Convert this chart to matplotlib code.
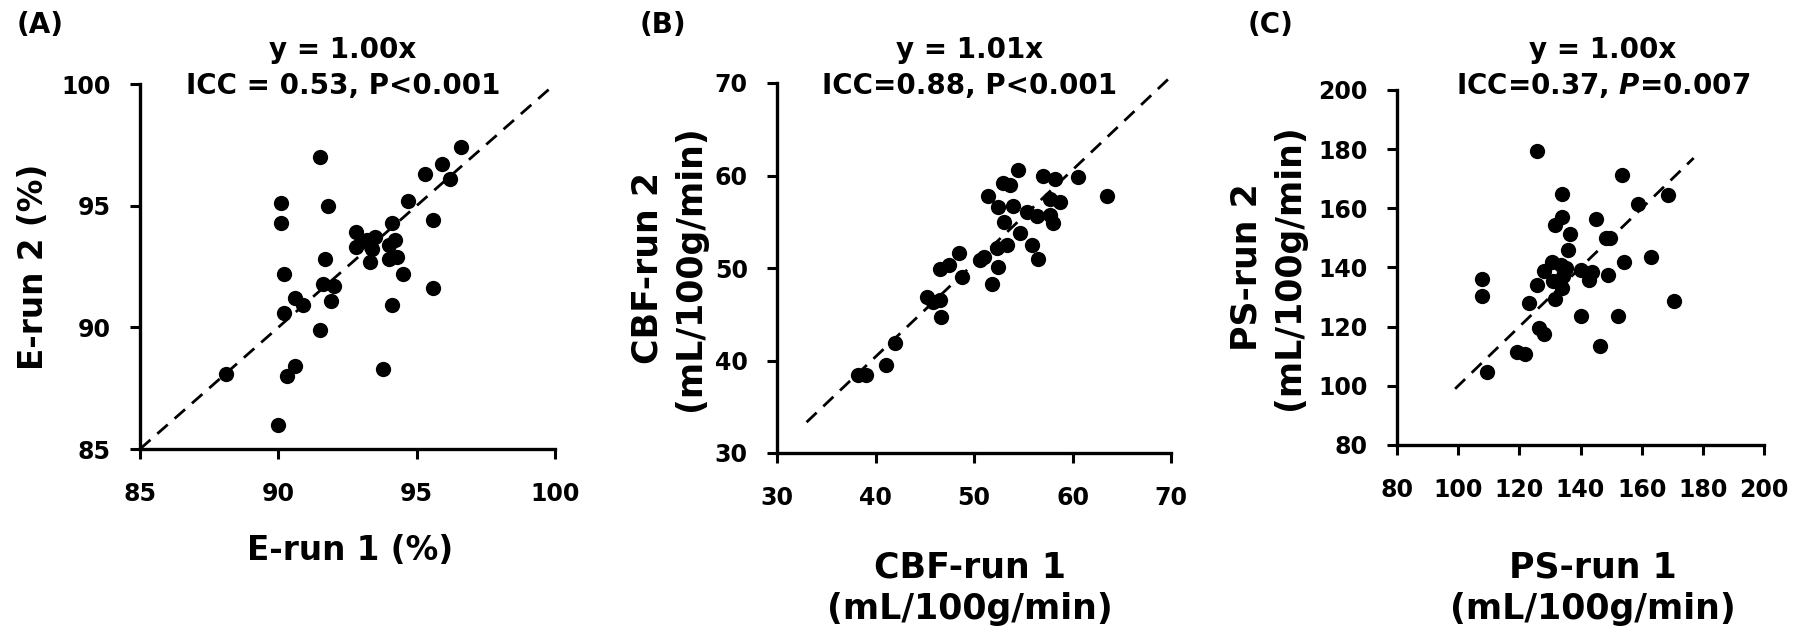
import numpy as np
import matplotlib
matplotlib.use("Agg")
import matplotlib.pyplot as plt

# panel A: E (%)
e_run1 = [96.6, 91.5, 95.9, 95.3, 96.2, 90.1, 91.8, 94.7, 90.1, 94.1, 95.6, 92.8,
          94.2, 92.8, 93.2, 93.5, 93.4, 94.0, 93.3, 94.0, 94.3, 91.7, 90.2, 94.5,
          91.6, 92.0, 90.6, 90.9, 91.9, 95.6, 94.1, 90.2, 91.5, 90.6, 90.3, 88.1,
          93.8, 90.0, 93.0]
e_run2 = [97.4, 97.0, 96.7, 96.3, 96.1, 95.1, 95.0, 95.2, 94.3, 94.3, 94.4, 93.9,
          93.6, 93.3, 93.6, 93.7, 93.2, 93.4, 92.7, 92.8, 92.9, 92.8, 92.2, 92.2,
          91.8, 91.7, 91.2, 90.9, 91.1, 91.6, 90.9, 90.6, 89.9, 88.4, 88.0, 88.1,
          88.3, 86.0, 93.5]

# panel B: CBF (mL/100g/min)
cbf_run1 = [54.5, 57.0, 58.2, 60.6, 52.9, 53.7, 63.5, 51.4, 57.7, 58.7, 52.4, 54.0,
            55.4, 56.4, 57.7, 58.0, 53.0, 54.7, 55.9, 53.4, 52.3, 56.5, 51.0, 50.6,
            52.4, 51.8, 48.5, 47.5, 46.5, 48.8, 45.2, 45.8, 46.5, 46.7, 42.0, 41.1,
            38.2, 39.0]
cbf_run2 = [60.6, 59.9, 59.6, 59.8, 59.2, 59.0, 57.8, 57.8, 57.5, 57.1, 56.6, 56.7,
            56.1, 55.6, 55.7, 54.9, 55.0, 53.8, 52.5, 52.5, 52.2, 51.0, 51.2, 50.9,
            50.1, 48.3, 51.6, 50.3, 49.9, 49.0, 46.9, 46.3, 46.5, 44.7, 41.9, 39.5,
            38.4, 38.4]

# panel C: PS (mL/100g/min)
ps_run1 = [125.8, 153.6, 134.0, 168.6, 158.9, 134.0, 145.2, 131.8, 136.7, 148.2,
           149.6, 135.9, 154.2, 162.9, 130.7, 133.5, 135.3, 128.0, 140.0, 143.8,
           149.1, 142.7, 107.8, 107.8, 125.8, 131.1, 134.0, 131.8, 123.1, 170.5,
           140.3, 152.3, 126.4, 128.0, 119.1, 121.7, 146.5, 109.5, 134.3]
ps_run2 = [179.3, 171.4, 164.7, 164.4, 161.5, 157.1, 156.5, 154.2, 151.4, 150.0,
           150.0, 146.0, 141.8, 143.6, 141.8, 141.0, 139.8, 138.7, 139.3, 138.4,
           137.6, 135.7, 136.1, 130.5, 134.2, 135.3, 133.1, 129.3, 128.0, 128.8,
           123.5, 123.5, 119.5, 117.6, 111.6, 110.8, 113.5, 104.8, 137.0]

plt.rcParams['font.family'] = ['DejaVu Sans']
plt.rcParams['font.weight'] = 'bold'
plt.rcParams['mathtext.fontset'] = 'custom'
plt.rcParams['mathtext.it'] = 'DejaVu Sans:italic:bold'

W, H = 1800, 634
fig = plt.figure(figsize=(18, 6.34), dpi=100)

def px_axes(x0, x1, ytop, ybot):
    return fig.add_axes([x0 / W, 1 - ybot / H, (x1 - x0) / W, (ybot - ytop) / H])

panels = [
    dict(box=(140, 555, 84, 449), x=e_run1, y=e_run2, lim=(85, 100), ticks=[85, 90, 95, 100],
         line=(85, 100, 1.00), letter='(A)', t1='y = 1.00x', t2='ICC = 0.53, P<0.001',
         xl='E-run 1 (%)', yl='E-run 2 (%)', tcx=343, xlx=350, lsz=23.5),
    dict(box=(777, 1171, 83, 453), x=cbf_run1, y=cbf_run2, lim=(30, 70), ticks=[30, 40, 50, 60, 70],
         line=(33, 70, 1.01), letter='(B)', t1='y = 1.01x', t2='ICC=0.88, P<0.001',
         xl='CBF-run 1\n(mL/100g/min)', yl='CBF-run 2\n(mL/100g/min)', tcx=970, xlx=970, lsz=25),
    dict(box=(1397, 1764, 90, 445), x=ps_run1, y=ps_run2, lim=(80, 200),
         ticks=[80, 100, 120, 140, 160, 180, 200],
         line=(99, 177, 1.00), letter='(C)', t1='y = 1.00x', t2=r'ICC=0.37, $\mathit{P}$=0.007',
         xl='PS-run 1\n(mL/100g/min)', yl='PS-run 2\n(mL/100g/min)', tcx=1603, xlx=1593, lsz=25),
]

letter_x = [17, 640, 1248]
ylab_x = [34, 669, 1268]

for i, p in enumerate(panels):
    x0, x1, yt, yb = p['box']
    ax = px_axes(x0, x1, yt, yb)
    lx0, lx1, k = p['line']
    xs = np.array([lx0, lx1])
    ax.plot(xs, k * xs, color='black', lw=2.0, ls=(0, (5, 3.3)))
    ax.plot(p['x'], p['y'], 'o', color='black', ms=11, mew=0)
    ax.set_xlim(p['lim'])
    ax.set_ylim(p['lim'])
    ax.set_xticks(p['ticks'])
    ax.set_yticks(p['ticks'])
    for s in ['top', 'right']:
        ax.spines[s].set_visible(False)
    for s in ['left', 'bottom']:
        ax.spines[s].set_linewidth(2.4)
    ax.tick_params(axis='both', length=7, width=2.2, labelsize=17)
    ax.tick_params(axis='y', pad=14)
    ax.tick_params(axis='x', pad=17)
    for art in ax.lines:
        art.set_clip_on(False)

    fig.text(p['tcx'] / W, 1 - 50 / H, p['t1'], ha='center', va='center', fontsize=20,
             fontweight='bold')
    fig.text(p['tcx'] / W, 1 - 86 / H, p['t2'], ha='center', va='center', fontsize=20,
             fontweight='bold')
    fig.text(letter_x[i] / W, 1 - 25 / H, p['letter'], ha='left', va='center', fontsize=20,
             fontweight='bold')
    fig.text(ylab_x[i] / W, 1 - (yt + yb) / 2 / H, p['yl'], rotation=90, ha='center', va='center',
             fontsize=p['lsz'], fontweight='bold', linespacing=1.3, multialignment='center')
    fig.text(p['xlx'] / W, 1 - 550 / H, p['xl'], ha='center',
             va='top' if '\n' in p['xl'] else 'center',
             fontsize=p['lsz'], fontweight='bold', linespacing=1.3, multialignment='center')

fig.savefig('out.png', dpi=100)
